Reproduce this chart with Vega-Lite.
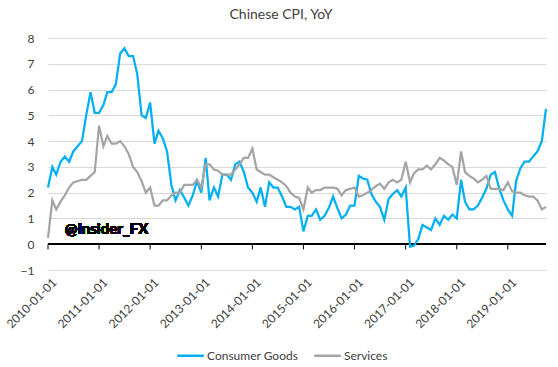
{
  "$schema": "https://vega.github.io/schema/vega-lite/v6.json",
  "autosize": "none",
  "width": 498,
  "height": 232,
  "padding": {"top": 38, "left": 48, "right": 12, "bottom": 97},
  "background": "white",
  "config": {
    "view": {"stroke": null}, "font": "Lato",
    "axisX": {"labelOverlap": false, "labelFlush": false, "labelBound": false, "domain": false, "ticks": false, "grid": false},
    "axisY": {"labelOverlap": false, "grid": true, "gridColor": "#D9D9D9", "domain": false, "ticks": false}
  },
  "title": {"text": "Chinese CPI, YoY", "fontSize": 14, "font": "Lato", "fontWeight": "normal", "color": "#404040", "offset": 10, "dx": -16},
  "data": {"values": [
    {"date":"2010-01-01","goods":2.2,"services":0.25},
    {"date":"2010-02-01","goods":3.0,"services":1.7},
    {"date":"2010-03-01","goods":2.7,"services":1.35},
    {"date":"2010-04-01","goods":3.2,"services":1.65},
    {"date":"2010-05-01","goods":3.4,"services":1.9},
    {"date":"2010-06-01","goods":3.2,"services":2.2},
    {"date":"2010-07-01","goods":3.6,"services":2.4},
    {"date":"2010-08-01","goods":3.8,"services":2.45},
    {"date":"2010-09-01","goods":4.0,"services":2.5},
    {"date":"2010-10-01","goods":5.0,"services":2.5},
    {"date":"2010-11-01","goods":5.9,"services":2.65},
    {"date":"2010-12-01","goods":5.1,"services":2.8},
    {"date":"2011-01-01","goods":5.1,"services":4.6},
    {"date":"2011-02-01","goods":5.4,"services":3.8},
    {"date":"2011-03-01","goods":5.9,"services":4.2},
    {"date":"2011-04-01","goods":5.9,"services":3.9},
    {"date":"2011-05-01","goods":6.2,"services":3.9},
    {"date":"2011-06-01","goods":7.4,"services":4.0},
    {"date":"2011-07-01","goods":7.6,"services":3.8},
    {"date":"2011-08-01","goods":7.3,"services":3.5},
    {"date":"2011-09-01","goods":7.3,"services":3.0},
    {"date":"2011-10-01","goods":6.6,"services":2.8},
    {"date":"2011-11-01","goods":5.0,"services":2.45},
    {"date":"2011-12-01","goods":4.9,"services":2.0},
    {"date":"2012-01-01","goods":5.5,"services":2.2},
    {"date":"2012-02-01","goods":3.9,"services":1.5},
    {"date":"2012-03-01","goods":4.4,"services":1.5},
    {"date":"2012-04-01","goods":4.1,"services":1.7},
    {"date":"2012-05-01","goods":3.6,"services":1.7},
    {"date":"2012-06-01","goods":2.3,"services":1.9},
    {"date":"2012-07-01","goods":1.7,"services":2.0},
    {"date":"2012-08-01","goods":2.1,"services":2.0},
    {"date":"2012-09-01","goods":1.8,"services":2.3},
    {"date":"2012-10-01","goods":1.5,"services":2.3},
    {"date":"2012-11-01","goods":1.9,"services":2.3},
    {"date":"2012-12-01","goods":2.45,"services":2.5},
    {"date":"2013-01-01","goods":2.0,"services":2.2},
    {"date":"2013-02-01","goods":3.35,"services":3.1},
    {"date":"2013-03-01","goods":1.7,"services":3.1},
    {"date":"2013-04-01","goods":2.2,"services":2.9},
    {"date":"2013-05-01","goods":1.85,"services":2.85},
    {"date":"2013-06-01","goods":2.7,"services":2.7},
    {"date":"2013-07-01","goods":2.7,"services":2.7},
    {"date":"2013-08-01","goods":2.5,"services":2.7},
    {"date":"2013-09-01","goods":3.1,"services":2.9},
    {"date":"2013-10-01","goods":3.2,"services":3.1},
    {"date":"2013-11-01","goods":2.8,"services":3.35},
    {"date":"2013-12-01","goods":2.2,"services":3.35},
    {"date":"2014-01-01","goods":2.0,"services":3.7},
    {"date":"2014-02-01","goods":1.65,"services":2.9},
    {"date":"2014-03-01","goods":2.2,"services":2.8},
    {"date":"2014-04-01","goods":1.45,"services":2.7},
    {"date":"2014-05-01","goods":2.4,"services":2.7},
    {"date":"2014-06-01","goods":2.2,"services":2.6},
    {"date":"2014-07-01","goods":2.2,"services":2.5},
    {"date":"2014-08-01","goods":1.85,"services":2.4},
    {"date":"2014-09-01","goods":1.45,"services":2.25},
    {"date":"2014-10-01","goods":1.45,"services":2.0},
    {"date":"2014-11-01","goods":1.35,"services":1.85},
    {"date":"2014-12-01","goods":1.45,"services":1.8},
    {"date":"2015-01-01","goods":0.5,"services":1.35},
    {"date":"2015-02-01","goods":1.1,"services":2.2},
    {"date":"2015-03-01","goods":1.1,"services":2.0},
    {"date":"2015-04-01","goods":1.35,"services":2.1},
    {"date":"2015-05-01","goods":0.95,"services":2.1},
    {"date":"2015-06-01","goods":1.1,"services":2.2},
    {"date":"2015-07-01","goods":1.4,"services":2.2},
    {"date":"2015-08-01","goods":1.85,"services":2.2},
    {"date":"2015-09-01","goods":1.4,"services":2.15},
    {"date":"2015-10-01","goods":1.0,"services":1.9},
    {"date":"2015-11-01","goods":1.15,"services":2.1},
    {"date":"2015-12-01","goods":1.5,"services":2.15},
    {"date":"2016-01-01","goods":1.5,"services":2.2},
    {"date":"2016-02-01","goods":2.65,"services":1.85},
    {"date":"2016-03-01","goods":2.55,"services":1.9},
    {"date":"2016-04-01","goods":2.5,"services":2.0},
    {"date":"2016-05-01","goods":1.95,"services":2.1},
    {"date":"2016-06-01","goods":1.65,"services":2.25},
    {"date":"2016-07-01","goods":1.45,"services":2.35},
    {"date":"2016-08-01","goods":0.95,"services":2.15},
    {"date":"2016-09-01","goods":1.75,"services":2.4},
    {"date":"2016-10-01","goods":1.95,"services":2.5},
    {"date":"2016-11-01","goods":2.1,"services":2.4},
    {"date":"2016-12-01","goods":1.85,"services":2.5},
    {"date":"2017-01-01","goods":2.2,"services":3.2},
    {"date":"2017-02-01","goods":-0.1,"services":2.4},
    {"date":"2017-03-01","goods":-0.05,"services":2.75},
    {"date":"2017-04-01","goods":0.2,"services":2.9},
    {"date":"2017-05-01","goods":0.75,"services":2.9},
    {"date":"2017-06-01","goods":0.65,"services":3.05},
    {"date":"2017-07-01","goods":0.55,"services":2.9},
    {"date":"2017-08-01","goods":1.0,"services":3.1},
    {"date":"2017-09-01","goods":0.75,"services":3.35},
    {"date":"2017-10-01","goods":1.1,"services":3.25},
    {"date":"2017-11-01","goods":0.95,"services":3.1},
    {"date":"2017-12-01","goods":1.15,"services":3.0},
    {"date":"2018-01-01","goods":1.0,"services":2.3},
    {"date":"2018-02-01","goods":2.5,"services":3.6},
    {"date":"2018-03-01","goods":1.65,"services":2.8},
    {"date":"2018-04-01","goods":1.35,"services":2.65},
    {"date":"2018-05-01","goods":1.35,"services":2.55},
    {"date":"2018-06-01","goods":1.5,"services":2.4},
    {"date":"2018-07-01","goods":1.8,"services":2.5},
    {"date":"2018-08-01","goods":2.15,"services":2.65},
    {"date":"2018-09-01","goods":2.7,"services":2.15},
    {"date":"2018-10-01","goods":2.8,"services":2.15},
    {"date":"2018-11-01","goods":2.15,"services":2.15},
    {"date":"2018-12-01","goods":1.7,"services":2.1},
    {"date":"2019-01-01","goods":1.35,"services":2.4},
    {"date":"2019-02-01","goods":1.1,"services":2.05},
    {"date":"2019-03-01","goods":2.45,"services":2.0},
    {"date":"2019-04-01","goods":2.95,"services":2.0},
    {"date":"2019-05-01","goods":3.2,"services":1.9},
    {"date":"2019-06-01","goods":3.2,"services":1.85},
    {"date":"2019-07-01","goods":3.4,"services":1.85},
    {"date":"2019-08-01","goods":3.6,"services":1.7},
    {"date":"2019-09-01","goods":4.0,"services":1.35},
    {"date":"2019-10-01","goods":5.25,"services":1.45}
  ]},
  "layer": [
    {
      "mark": {"type": "rule", "color": "#000000", "strokeWidth": 1},
      "encoding": {"y": {"datum": 0, "type": "quantitative"}}
    },
    {
      "transform": [{"filter": "utcmonth(toDate(datum.date)) === 0"}],
      "mark": {"type": "rule", "color": "#000000", "strokeWidth": 1},
      "encoding": {
        "x": {"field": "date", "type": "temporal"},
        "y": {"datum": 0, "type": "quantitative"},
        "y2": {"datum": -0.2}
      }
    },
    {
      "transform": [{"fold": ["goods", "services"], "as": ["series", "value"]}],
      "mark": {"type": "line", "strokeWidth": 2.25, "interpolate": "linear"},
      "encoding": {
        "x": {
          "field": "date", "type": "temporal",
          "scale": {"type": "utc", "nice": false},
          "axis": {
            "title": null, "orient": "bottom",
            "format": "%Y-%m-%d", "tickCount": {"interval": "year", "step": 1},
            "labelAngle": -45, "labelAlign": "right", "labelBaseline": "middle",
            "labelPadding": 10, "labelOffset": 6, "labelFontSize": 12, "labelFont": "Lato", "labelColor": "#404040",
            "labelFlush": false, "labelOverlap": false, "labelBound": false,
            "domain": false, "ticks": false, "grid": false
          }
        },
        "y": {
          "field": "value", "type": "quantitative",
          "scale": {"domain": [-1, 8], "nice": false, "zero": false},
          "axis": {
            "title": null, "values": [-1, 0, 1, 2, 3, 4, 5, 6, 7, 8], "tickCount": 20, "format": "d", "labelOverlap": false,
            "grid": true, "gridColor": "#D9D9D9", "gridWidth": 1,
            "domain": false, "ticks": false, "labelPadding": 14,
            "labelFontSize": 12, "labelFont": "Lato", "labelColor": "#404040"
          }
        },
        "color": {
          "field": "series", "type": "nominal",
          "scale": {"domain": ["goods", "services"], "range": ["#00B0F0", "#A5A5A5"]},
          "legend": {
            "title": null, "orient": "none", "direction": "horizontal",
            "legendX": 128, "legendY": 303,
            "symbolType": "stroke", "symbolSize": 700, "symbolStrokeWidth": 2.5,
            "labelExpr": "datum.value == 'goods' ? 'Consumer Goods' : 'Services'",
            "labelFontSize": 12, "labelFont": "Lato", "labelColor": "#404040",
            "columnPadding": 10, "labelOffset": 2
          }
        }
      }
    },
    {
      "mark": {"type": "text", "text": "@Insider_FX", "font": "Lato", "fontSize": 15, "fontWeight": "bold", "align": "left", "baseline": "alphabetic", "color": "#000000"},
      "encoding": {
        "x": {"datum": {"year": 2010, "month": 5, "date": 1, "utc": true}, "type": "temporal"},
        "y": {"datum": 0.4, "type": "quantitative"}
      }
    }
  ]
}
